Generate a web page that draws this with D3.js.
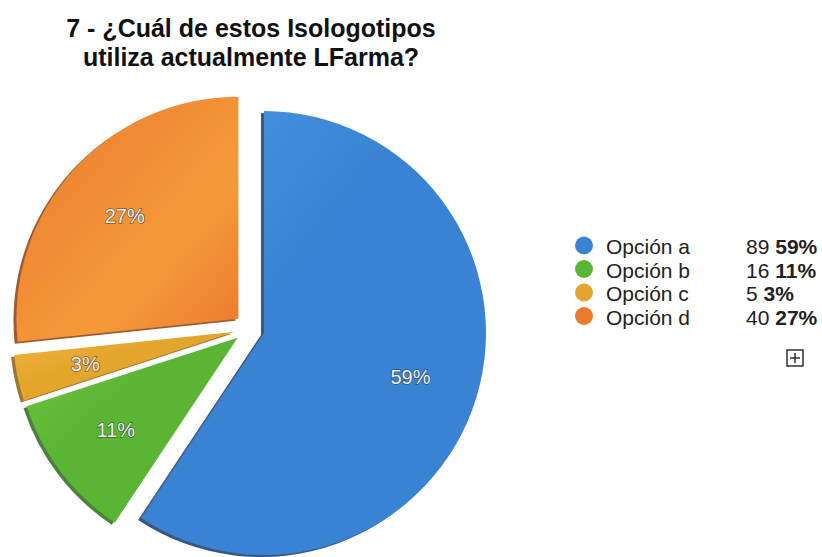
<!DOCTYPE html>
<html>
<head>
<meta charset="utf-8">
<script src="https://cdn.jsdelivr.net/npm/d3@7"></script>
<style>
  html, body { margin: 0; padding: 0; background: #fff; }
  svg { display: block; font-family: Arial, "Liberation Sans", Helvetica, sans-serif; }
</style>
</head>
<body>
<svg id="chart" width="822" height="557"></svg>
<script>
// Survey answers
const categories = ["Opción a", "Opción b", "Opción c", "Opción d"];
const counts = [89, 16, 5, 40];
const percentLabels = ["59%", "11%", "3%", "27%"];
const colors = ["#3a83d4", "#5bb534", "#e4a52c", "#eb7a2e"];
const lightColors = ["#4a97e4", "#6cc642", "#f0b440", "#f59a3a"];
const edgeColors = ["#173a66", "#2f6a1a", "#8a5f12", "#8a3f10"];
const titleLines = ["7 - ¿Cuál de estos Isologotipos", "utiliza actualmente LFarma?"];

const svg = d3.select("#chart");

// Title
svg.append("g").selectAll("text")
  .data(titleLines)
  .join("text")
  .attr("x", 251)
  .attr("y", (d, i) => 37 + i * 29)
  .attr("text-anchor", "middle")
  .attr("font-size", 25)
  .attr("font-weight", "bold")
  .attr("fill", "#111")
  .text(d => d);

// Pie geometry
const cx = 249.6, cy = 328.7, R = 222, explode = 15;
const pie = d3.pie().sort(null).value(d => d)(counts);
const arc = d3.arc().innerRadius(0).outerRadius(R);
const labelArc = d3.arc().innerRadius(153).outerRadius(153);

const defs = svg.append("defs");
pie.forEach((p, i) => {
  const g = defs.append("linearGradient")
    .attr("id", "grad" + i)
    .attr("x1", "0%").attr("y1", "0%").attr("x2", "100%").attr("y2", "100%");
  g.append("stop").attr("offset", "0%").attr("stop-color", i === 3 ? colors[i] : lightColors[i]);
  g.append("stop").attr("offset", i === 3 ? "65%" : "40%").attr("stop-color", i === 3 ? lightColors[i] : colors[i]);
  g.append("stop").attr("offset", "100%").attr("stop-color", colors[i]);
});

const pieG = svg.append("g").attr("transform", `translate(${cx},${cy})`);

const slices = pieG.selectAll("g.slice")
  .data(pie)
  .join("g")
  .attr("class", "slice")
  .attr("transform", d => {
    const a = (d.startAngle + d.endAngle) / 2;
    return `translate(${Math.sin(a) * explode},${-Math.cos(a) * explode})`;
  });

// darker side face
slices.append("path")
  .attr("d", arc)
  .attr("transform", "translate(-3,2)")
  .attr("fill", (d, i) => edgeColors[i])
  .attr("opacity", 0.85);

slices.append("path")
  .attr("d", arc)
  .attr("fill", (d, i) => `url(#grad${i})`);

slices.append("text")
  .attr("transform", d => `translate(${labelArc.centroid(d)})`)
  .attr("text-anchor", "middle")
  .attr("dy", "0.35em")
  .attr("font-size", 20)
  .attr("fill", "#eef0f2")
  .attr("stroke", "rgba(40,40,40,0.55)")
  .attr("stroke-width", 1.6)
  .attr("paint-order", "stroke")
  .text((d, i) => percentLabels[i]);

// Legend
const legend = svg.append("g");
const rowY = i => 254 + i * 23.5;
const rows = legend.selectAll("g")
  .data(categories)
  .join("g");

rows.append("circle")
  .attr("cx", 584)
  .attr("cy", (d, i) => rowY(i) - 8.5)
  .attr("r", 9)
  .attr("fill", (d, i) => colors[i]);

rows.append("text")
  .attr("x", 606)
  .attr("y", (d, i) => rowY(i))
  .attr("font-size", 21)
  .attr("fill", "#222")
  .text(d => d);

const vals = rows.append("text")
  .attr("x", 746)
  .attr("y", (d, i) => rowY(i))
  .attr("font-size", 21)
  .attr("fill", "#222");
vals.append("tspan").text((d, i) => counts[i] + " ");
vals.append("tspan").attr("font-weight", "bold").text((d, i) => percentLabels[i]);

// expand icon
const icon = svg.append("g").attr("transform", "translate(787,350)");
icon.append("rect").attr("width", 16).attr("height", 16)
  .attr("fill", "#fff").attr("stroke", "#222").attr("stroke-width", 1.4);
icon.append("line").attr("x1", 8).attr("x2", 8).attr("y1", 3).attr("y2", 13)
  .attr("stroke", "#222").attr("stroke-width", 1.4);
icon.append("line").attr("x1", 3).attr("x2", 13).attr("y1", 8).attr("y2", 8)
  .attr("stroke", "#222").attr("stroke-width", 1.4);
</script>
</body>
</html>
